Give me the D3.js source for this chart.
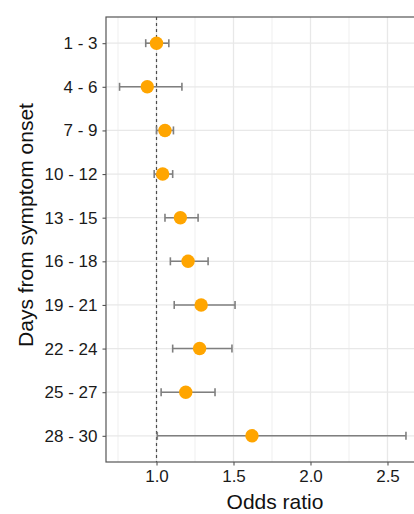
<!DOCTYPE html>
<html>
<head>
<meta charset="utf-8">
<script src="https://cdn.jsdelivr.net/npm/d3@7"></script>
<style>
html,body{margin:0;padding:0;background:#fff;}
svg{display:block;}
text{font-family:"Liberation Sans",Arial,sans-serif;}
</style>
</head>
<body>
<svg id="chart" width="414" height="514"></svg>
<script>
const categories = ["1 - 3","4 - 6","7 - 9","10 - 12","13 - 15","16 - 18","19 - 21","22 - 24","25 - 27","28 - 30"];
const oddsRatio = [1.00, 0.94, 1.055, 1.04, 1.155, 1.205, 1.29, 1.28, 1.19, 1.62];
const lowerCI   = [0.93, 0.76, 1.00, 0.985, 1.055, 1.09, 1.115, 1.105, 1.03, 1.005];
const upperCI   = [1.08, 1.165, 1.11, 1.105, 1.27, 1.335, 1.51, 1.49, 1.38, 2.62];
const xTicks = [1.0, 1.5, 2.0, 2.5];
const xMinorTicks = [0.75, 1.25, 1.75, 2.25, 2.75];
const refValue = 1.0;

(function(){
const data = categories.map((c,i)=>({cat:c, or:oddsRatio[i], lo:lowerCI[i], hi:upperCI[i]}));

const svg = d3.select("#chart");
const pL = 106, pR = 444, pT = 17, pB = 462;

const x = d3.scaleLinear().domain([0.672, 2.867]).range([pL, pR]);
const y = d3.scalePoint().domain(categories).range([pT, pB]).padding(0.6);

svg.append("defs").append("clipPath").attr("id","panel")
  .append("rect").attr("x",pL).attr("y",pT).attr("width",pR-pL).attr("height",pB-pT);

const g = svg.append("g").attr("clip-path","url(#panel)");

g.selectAll(".minor").data(xMinorTicks).join("line")
  .attr("x1",d=>x(d)).attr("x2",d=>x(d)).attr("y1",pT).attr("y2",pB)
  .attr("stroke","#efefef").attr("stroke-width",1);
g.selectAll(".majorx").data(xTicks).join("line")
  .attr("x1",d=>x(d)).attr("x2",d=>x(d)).attr("y1",pT).attr("y2",pB)
  .attr("stroke","#e8e8e8").attr("stroke-width",1.3);
g.selectAll(".majory").data(categories).join("line")
  .attr("x1",pL).attr("x2",pR).attr("y1",d=>y(d)).attr("y2",d=>y(d))
  .attr("stroke","#e8e8e8").attr("stroke-width",1.3);

g.append("line").attr("x1",x(refValue)).attr("x2",x(refValue)).attr("y1",pT).attr("y2",pB)
  .attr("stroke","#4d4d4d").attr("stroke-width",1.2).attr("stroke-dasharray","3,3");

const eb = g.selectAll(".eb").data(data).join("g");
eb.append("line").attr("x1",d=>x(d.lo)).attr("x2",d=>x(d.hi)).attr("y1",d=>y(d.cat)).attr("y2",d=>y(d.cat))
  .attr("stroke","#7f7f7f").attr("stroke-width",1.6);
eb.append("line").attr("x1",d=>x(d.lo)).attr("x2",d=>x(d.lo)).attr("y1",d=>y(d.cat)-4).attr("y2",d=>y(d.cat)+4)
  .attr("stroke","#7f7f7f").attr("stroke-width",1.6);
eb.append("line").attr("x1",d=>x(d.hi)).attr("x2",d=>x(d.hi)).attr("y1",d=>y(d.cat)-4).attr("y2",d=>y(d.cat)+4)
  .attr("stroke","#7f7f7f").attr("stroke-width",1.6);

g.selectAll(".pt").data(data).join("circle")
  .attr("cx",d=>x(d.or)).attr("cy",d=>y(d.cat)).attr("r",6.7).attr("fill","#FFA500");

svg.append("rect").attr("x",pL).attr("y",pT).attr("width",pR-pL).attr("height",pB-pT)
  .attr("fill","none").attr("stroke","#555").attr("stroke-width",1.2);

const xAxis = svg.append("g").attr("transform",`translate(0,${pB})`)
  .call(d3.axisBottom(x).tickValues(xTicks).tickFormat(d3.format(".1f")).tickSizeOuter(0).tickSizeInner(3.5).tickPadding(4));
xAxis.select(".domain").remove();
xAxis.selectAll("line").attr("stroke","#555").attr("stroke-width",1.1);
xAxis.selectAll("text").attr("font-size",17).attr("fill","#1a1a1a").attr("font-family","Liberation Sans, Arial, sans-serif");

const yAxis = svg.append("g").attr("transform",`translate(${pL},0)`)
  .call(d3.axisLeft(y).tickSizeOuter(0).tickSizeInner(3.5).tickPadding(5));
yAxis.select(".domain").remove();
yAxis.selectAll("line").attr("stroke","#555").attr("stroke-width",1.1);
yAxis.selectAll("text").attr("font-size",17).attr("fill","#1a1a1a").attr("font-family","Liberation Sans, Arial, sans-serif");

svg.append("text").attr("x",275).attr("y",509).attr("text-anchor","middle")
  .attr("font-size",21).attr("fill","#111").text("Odds ratio");
svg.append("text").attr("transform","translate(33,225) rotate(-90)").attr("text-anchor","middle")
  .attr("font-size",21).attr("fill","#111").text("Days from symptom onset");
})();
</script>
</body>
</html>
